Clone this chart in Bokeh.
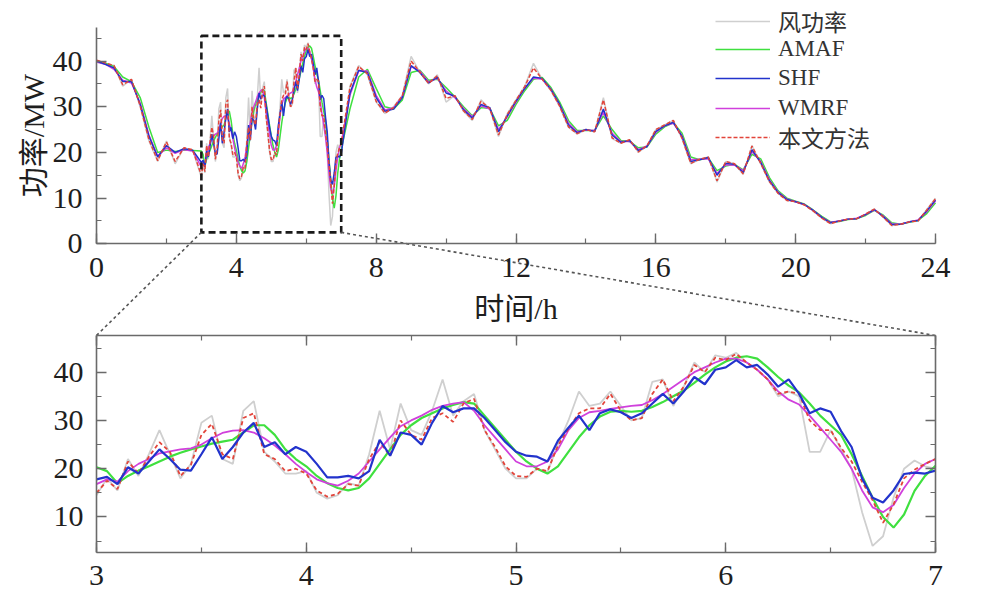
from bokeh.plotting import figure
from bokeh.models import Range1d, LinearAxis, SingleIntervalTicker, Legend, LegendItem
from bokeh.embed import file_html
from bokeh.resources import INLINE

# ---------------- data ----------------
# zoomed window 3 h .. 7 h, sampled every 0.05 h
zoom_t = [round(3 + 0.05 * i, 2) for i in range(81)]

zoom_raw = [14.5, 18.0, 15.5, 22.0, 18.5, 23.0, 28.0, 23.0, 18.0, 21.0,
            29.5, 31.0, 22.0, 21.0, 32.0, 34.0, 23.5, 21.5, 19.0, 19.0,
            19.5, 15.0, 13.8, 14.5, 17.0, 16.5, 23.0, 32.0, 24.0, 33.5,
            28.0, 27.0, 32.0, 38.5, 31.0, 34.0, 35.5, 28.0, 24.0, 20.0,
            18.0, 18.0, 20.0, 19.3, 25.0, 30.0, 36.0, 33.0, 33.5, 36.0,
            33.0, 30.0, 30.5, 38.0, 38.5, 33.0, 37.0, 42.0, 40.0, 43.5,
            43.0, 44.0, 42.0, 40.5, 38.5, 35.0, 36.0, 35.0, 23.5, 23.5,
            28.0, 24.0, 20.0, 11.0, 4.0, 6.0, 14.0, 20.0, 21.7, 20.5,
            20.0]
zoom_amaf = [20.3, 19.5, 17.0, 18.5, 19.6, 20.5, 21.5, 22.5, 23.3, 24.0,
             24.6, 25.2, 25.6, 26.0, 27.5, 29.0, 29.0, 27.0, 24.0, 22.0,
             20.5, 18.5, 17.0, 16.0, 15.5, 16.0, 18.0, 21.0, 24.0, 27.0,
             29.0, 30.5, 31.5, 32.5, 33.2, 33.8, 33.5, 31.0, 28.5, 26.0,
             23.5, 21.5, 20.0, 19.0, 20.5, 23.5, 26.5, 29.0, 30.8, 31.8,
             32.0, 31.8, 32.0, 32.8, 33.8, 35.0, 36.2, 37.8, 39.5, 41.0,
             42.2, 43.0, 43.3, 42.8, 41.0, 39.0, 37.2, 35.8, 33.5, 31.0,
             29.0, 27.0, 23.0, 18.5, 14.0, 10.0, 7.8, 10.5, 15.4, 18.5,
             20.6]
zoom_shf = [17.8, 18.3, 16.8, 20.3, 19.0, 21.5, 24.0, 22.0, 19.8, 19.6,
            23.0, 26.5, 22.0, 24.5, 27.5, 29.5, 24.5, 25.5, 23.0, 24.5,
            23.5, 21.0, 18.2, 18.2, 18.5, 18.0, 19.5, 26.0, 22.7, 27.5,
            27.0, 25.0, 29.5, 33.0, 31.7, 32.5, 32.5, 30.5, 28.0, 25.5,
            23.5, 22.7, 22.5, 21.5, 25.8, 28.5, 31.0, 28.0, 31.5, 32.3,
            31.7, 30.5, 31.5, 33.5, 35.5, 33.5, 36.0, 39.0, 37.5, 40.5,
            41.0, 42.5, 41.0, 41.5, 39.5, 37.0, 38.5, 35.5, 31.5, 32.5,
            31.8, 27.8, 24.5, 18.0, 14.0, 13.0, 15.5, 18.9, 19.2, 19.0,
            19.6]
zoom_wmrf = [16.8, 17.8, 17.3, 19.5, 21.0, 22.0, 23.2, 23.6, 24.0, 24.2,
             25.0, 26.3, 27.4, 27.9, 28.0, 27.5, 26.3, 24.8, 23.0, 21.0,
             19.3, 17.8, 17.0, 16.5, 17.5, 19.0, 21.5, 24.0, 26.5, 28.8,
             30.0, 31.0, 32.2, 33.0, 33.5, 33.8, 32.0, 29.0, 26.5, 24.0,
             21.5, 20.5, 20.5, 21.5, 24.0, 28.0, 30.5, 31.7, 32.0, 32.4,
             32.7, 33.0, 33.2, 34.2, 35.5, 37.0, 38.5, 40.0, 41.0, 42.0,
             42.8, 42.8, 42.0, 40.5, 38.5, 36.0, 34.3, 33.3, 31.0, 28.5,
             26.0, 23.5, 20.0, 15.5, 12.0, 11.0, 12.5, 16.0, 19.0, 21.0,
             22.0]
zoom_prop = [15.0, 17.5, 15.8, 21.5, 19.0, 22.5, 25.5, 23.5, 18.5, 20.8,
             27.0, 29.3, 23.0, 22.0, 30.5, 31.5, 23.0, 22.0, 19.5, 20.0,
             19.0, 15.5, 14.2, 14.8, 16.8, 16.5, 22.0, 25.5, 22.7, 30.0,
             27.0, 26.0, 30.5, 31.5, 29.7, 33.5, 34.5, 28.0, 24.5, 20.5,
             18.5, 18.3, 20.0, 19.5, 24.8, 28.3, 31.5, 32.5, 32.5, 35.5,
             32.0, 30.0, 30.5, 35.5, 38.5, 34.0, 37.0, 41.5, 40.0, 43.0,
             42.5, 43.8, 42.0, 40.5, 38.5, 35.5, 36.0, 35.5, 30.0, 28.0,
             28.0, 24.3, 21.5, 17.3, 13.5, 8.8, 12.6, 18.0, 19.8, 21.0,
             22.0]

# whole day outside the zoom window, sampled every 0.25 h
day_t_a = [0.25 * i for i in range(12)]            # 0 .. 2.75 h
day_t_b = [7.25 + 0.25 * i for i in range(68)]     # 7.25 .. 24 h

raw_a = [40.0, 39.5, 39.0, 34.5, 36.0, 30.0, 22.5, 18.0, 22.5, 17.5, 21.0, 20.5]
amaf_a = [39.8, 39.5, 38.8, 36.5, 35.5, 32.0, 25.5, 20.0, 20.5, 20.2, 20.5, 20.4]
shf_a = [40.0, 39.3, 38.5, 35.5, 35.5, 30.5, 23.5, 19.0, 21.5, 20.0, 20.8, 20.5]
wmrf_a = [39.8, 39.3, 38.2, 35.8, 35.2, 30.8, 23.8, 19.2, 21.0, 19.8, 20.6, 20.3]
prop_a = [40.2, 39.6, 39.0, 34.8, 36.0, 30.2, 22.8, 18.2, 22.3, 18.0, 21.0, 20.6]

raw_b = [34.5, 39.0, 37.0, 31.0, 28.5, 30.0, 32.5, 41.0, 37.5, 35.0, 37.0, 31.0,
         32.5, 29.0, 27.0, 31.5, 29.5, 23.5, 28.5, 31.5, 34.5, 39.5, 36.0, 33.5,
         30.0, 25.5, 24.0, 25.0, 24.5, 32.0, 23.0, 22.0, 22.8, 20.0, 21.5, 25.0,
         26.0, 27.0, 23.0, 17.5, 18.5, 19.0, 13.5, 18.0, 17.5, 15.2, 21.5, 17.5,
         13.5, 11.0, 9.5, 9.2, 8.5, 7.2, 5.6, 4.4, 5.0, 5.4, 5.5, 6.5,
         7.6, 5.8, 4.0, 4.3, 4.8, 5.0, 7.5, 10.0]
amaf_b = [29.5, 36.5, 38.2, 34.0, 30.0, 29.5, 31.5, 37.5, 38.0, 35.8, 36.0, 34.2,
          32.2, 30.0, 28.0, 29.8, 29.6, 25.8, 27.0, 30.5, 33.5, 36.0, 36.4, 34.2,
          31.0, 27.0, 24.8, 24.8, 24.8, 28.0, 25.0, 22.6, 22.4, 21.0, 21.2, 24.0,
          25.6, 26.5, 24.2, 19.0, 18.4, 18.8, 16.0, 17.0, 17.4, 16.2, 19.6, 18.6,
          14.5, 11.6, 10.0, 9.3, 8.7, 7.4, 6.0, 4.8, 4.9, 5.3, 5.5, 6.2,
          7.3, 6.3, 4.6, 4.3, 4.7, 5.1, 6.6, 9.0]
shf_b = [33.0, 38.0, 37.5, 32.0, 29.0, 29.5, 32.0, 39.0, 37.5, 35.2, 36.5, 33.0,
         32.3, 29.3, 27.5, 30.5, 29.8, 24.5, 28.0, 31.2, 34.0, 36.5, 36.2, 33.8,
         30.5, 26.0, 24.3, 25.0, 24.6, 29.5, 23.8, 22.2, 22.6, 20.4, 21.3, 24.6,
         25.8, 26.6, 23.5, 18.0, 18.4, 18.9, 15.0, 17.6, 17.4, 15.6, 20.6, 17.8,
         13.8, 11.2, 9.7, 9.2, 8.6, 7.3, 5.8, 4.6, 5.0, 5.4, 5.5, 6.4,
         7.5, 6.0, 4.2, 4.3, 4.8, 5.1, 7.2, 9.6]
wmrf_b = [32.5, 37.8, 37.8, 32.5, 29.3, 29.8, 32.3, 38.8, 37.8, 35.4, 36.2, 33.5,
          32.0, 29.6, 27.8, 30.2, 29.5, 25.0, 27.8, 31.0, 34.0, 36.3, 36.0, 33.8,
          30.4, 26.4, 24.5, 24.9, 24.8, 28.8, 24.2, 22.4, 22.4, 20.6, 21.4, 24.4,
          25.8, 26.4, 23.6, 18.4, 18.5, 18.6, 15.4, 17.3, 17.2, 16.0, 20.2, 18.0,
          14.0, 11.3, 9.8, 9.2, 8.6, 7.3, 5.8, 4.7, 5.0, 5.4, 5.6, 6.4,
          7.4, 6.1, 4.4, 4.3, 4.8, 5.2, 7.0, 9.4]
prop_b = [34.2, 38.8, 37.2, 31.2, 28.6, 29.8, 32.4, 40.0, 37.6, 35.1, 36.8, 31.8,
          32.4, 29.1, 27.2, 31.2, 29.6, 23.8, 28.3, 31.4, 34.4, 38.5, 36.0, 33.6,
          30.1, 25.6, 24.1, 25.0, 24.5, 31.5, 23.2, 22.0, 22.8, 20.1, 21.5, 25.0,
          26.0, 27.0, 23.1, 17.6, 18.5, 19.0, 13.8, 18.0, 17.5, 15.3, 21.4, 17.6,
          13.6, 11.0, 9.5, 9.2, 8.5, 7.2, 5.6, 4.4, 5.0, 5.4, 5.5, 6.5,
          7.6, 5.9, 4.0, 4.3, 4.8, 5.0, 7.4, 9.9]

series_names = ["风功率", "AMAF", "SHF", "WMRF", "本文方法"]
x_title = "时间/h"
y_title = "功率/MW"

# panel limits (data units)
TOP_X = (0, 24)
TOP_Y = (0, 47.4)
BOT_X = (3, 7)
BOT_Y = (2.7, 47.6)
ZOOM_BOX = (3, 7, 2.5, 45.5)   # t0, t1, y0, y1 on the day panel

# ---------------- geometry / style (pixels) ----------------
W, H = 975, 600
MB = 48                         # below-axis band; frame covers the rest
FRAME_W, FRAME_H = W, H - MB
PX_L, PX_R = 96, 935            # left / right edge of both panels
TOP_PX = (26.7, 243.3)          # top panel: top edge, zero line
BOT_PX = (335.0, 551.7)         # zoom panel: top edge, bottom edge
LEG_X = 715                     # legend left edge
LEG_Y = [20.5, 48.5, 78, 107.5, 137]   # legend row centres
LEG_ROW = 42
FONT = "Liberation Serif, Noto Sans CJK SC"
AX_COL = "#6a6a6a"
TXT_COL = "#1e1e1e"
C_RAW, C_AMAF, C_SHF, C_WMRF, C_PROP = "#cfcfcf", "#3fe03f", "#2233cc", "#d040dc", "#e2443a"


def span_x(v0, v1):
    per = (v1 - v0) / (PX_R - PX_L)
    return (v0 - PX_L * per, v0 + (FRAME_W - PX_L) * per)


def span_y(v_lo, v_hi, p_hi, p_lo):
    per = (v_hi - v_lo) / (p_lo - p_hi)
    return (v_lo - (FRAME_H - p_lo) * per, v_hi + p_hi * per)


bot_xr = span_x(*BOT_X)
top_xr = span_x(*TOP_X)
bot_yr = span_y(BOT_Y[0], BOT_Y[1], BOT_PX[0], BOT_PX[1])
top_yr = span_y(TOP_Y[0], TOP_Y[1], TOP_PX[0], TOP_PX[1])


def conv(v, src, dst):
    return dst[0] + (v - src[0]) / (src[1] - src[0]) * (dst[1] - dst[0])


p = figure(width=W, height=H, output_backend="svg", toolbar_location=None,
           x_range=Range1d(*bot_xr), y_range=Range1d(*bot_yr),
           x_axis_type=None, y_axis_type=None,
           min_border_left=0, min_border_right=0, min_border_top=0, min_border_bottom=MB)
p.outline_line_color = None
p.background_fill_color = "white"
p.border_fill_color = "white"
p.extra_x_ranges = {"top": Range1d(*top_xr)}
p.extra_y_ranges = {"top": Range1d(*top_yr)}


def style(ax, labels=True):
    ax.axis_line_color = AX_COL
    ax.axis_line_width = 1.6
    ax.major_tick_line_color = AX_COL
    ax.minor_tick_line_color = AX_COL
    ax.major_tick_line_width = 1.4
    ax.minor_tick_line_width = 1.2
    ax.major_tick_in = 10
    ax.major_tick_out = 0
    ax.minor_tick_in = 5
    ax.minor_tick_out = 0
    ax.major_label_text_font = FONT
    ax.major_label_text_font_size = "30px"
    ax.major_label_text_color = TXT_COL if labels else None
    ax.major_label_standoff = 13
    ax.axis_label_text_font = FONT
    ax.axis_label_text_font_size = "30px"
    ax.axis_label_text_font_style = "normal"
    ax.axis_label_text_color = TXT_COL
    ax.axis_label_standoff = 0


# zoom panel axes (closed box)
ax_b = LinearAxis(ticker=SingleIntervalTicker(interval=1, num_minor_ticks=2), bounds=BOT_X)
style(ax_b)
p.add_layout(ax_b, "below")
ax_l = LinearAxis(ticker=SingleIntervalTicker(interval=10, num_minor_ticks=2),
                  bounds=BOT_Y, fixed_location=BOT_X[0])
style(ax_l)
p.add_layout(ax_l, "left")
ax_r = LinearAxis(ticker=SingleIntervalTicker(interval=10, num_minor_ticks=2),
                  bounds=BOT_Y, fixed_location=BOT_X[1])
style(ax_r, labels=False)
p.add_layout(ax_r, "right")
ax_t = LinearAxis(ticker=SingleIntervalTicker(interval=1, num_minor_ticks=2),
                  bounds=BOT_X, fixed_location=BOT_Y[1])
style(ax_t, labels=False)
p.add_layout(ax_t, "above")

# day panel axes
ax_db = LinearAxis(x_range_name="top", y_range_name="top",
                   ticker=SingleIntervalTicker(interval=4, num_minor_ticks=2),
                   bounds=TOP_X, fixed_location=TOP_Y[0], axis_label=x_title)
style(ax_db)
ax_db.major_label_standoff = 14
ax_db.axis_label_standoff = 12
p.add_layout(ax_db, "below")
ax_dl = LinearAxis(x_range_name="top", y_range_name="top",
                   ticker=SingleIntervalTicker(interval=10, num_minor_ticks=2),
                   bounds=TOP_Y, fixed_location=TOP_X[0], axis_label=y_title)
style(ax_dl)
ax_dl.major_label_standoff = 14
p.add_layout(ax_dl, "left")

# ---------------- day panel curves ----------------
day_t = day_t_a + zoom_t + day_t_b
kw = dict(x_range_name="top", y_range_name="top")
r_raw = p.line(day_t, raw_a + zoom_raw + raw_b, line_color=C_RAW, line_width=1.5, **kw)
r_amaf = p.line(day_t, amaf_a + zoom_amaf + amaf_b, line_color=C_AMAF, line_width=1.5, **kw)
r_wmrf = p.line(day_t, wmrf_a + zoom_wmrf + wmrf_b, line_color=C_WMRF, line_width=1.5, **kw)
r_shf = p.line(day_t, shf_a + zoom_shf + shf_b, line_color=C_SHF, line_width=1.5, **kw)
r_prop = p.line(day_t, prop_a + zoom_prop + prop_b, line_color=C_PROP, line_width=1.5,
                line_dash="4 2", **kw)

# zoom box and connectors
t0, t1, y0, y1 = ZOOM_BOX
p.quad(left=[t0], right=[t1], bottom=[y0], top=[y1], fill_color=None,
       line_color="#1a1a1a", line_width=2.6, line_dash="7 4", **kw)
p.segment(x0=[t0, t1], y0=[y0, y0],
          x1=[conv(BOT_X[0], bot_xr, top_xr), conv(BOT_X[1], bot_xr, top_xr)],
          y1=[conv(BOT_Y[1], bot_yr, top_yr)] * 2,
          line_color="#555555", line_width=1.6, line_dash="3 3", **kw)

# ---------------- zoom panel curves ----------------
p.line(zoom_t, zoom_raw, line_color=C_RAW, line_width=1.8)
p.line(zoom_t, zoom_amaf, line_color=C_AMAF, line_width=2.2)
p.line(zoom_t, zoom_wmrf, line_color=C_WMRF, line_width=1.8)
p.line(zoom_t, zoom_prop, line_color=C_PROP, line_width=1.8, line_dash="4 3")
p.line(zoom_t, zoom_shf, line_color=C_SHF, line_width=2.2)

# ---------------- legend (one row per entry, fixed pitch) ----------------
for name, rend, cy in zip(series_names, [r_raw, r_amaf, r_shf, r_wmrf, r_prop], LEG_Y):
    leg = Legend(items=[LegendItem(label=name, renderers=[rend])],
                 location=(LEG_X, FRAME_H - (cy + LEG_ROW / 2)), orientation="vertical",
                 glyph_width=55, glyph_height=LEG_ROW, label_height=LEG_ROW, label_standoff=8,
                 spacing=0, padding=0, margin=0,
                 label_text_font=FONT, label_text_font_size="23px", label_text_color="#333333",
                 background_fill_alpha=0, border_line_color=None)
    p.add_layout(leg)

open("out.html", "w").write(file_html(p, INLINE))
